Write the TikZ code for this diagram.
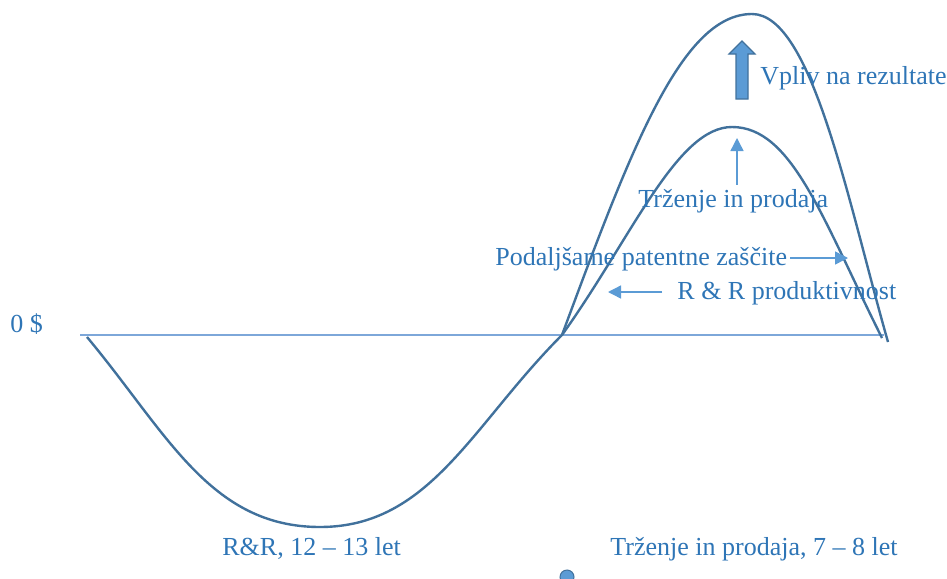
\documentclass[tikz,border=0pt]{standalone}
\usepackage{fontspec}
\setmainfont{Liberation Serif}
\usetikzlibrary{arrows.meta, positioning}
\definecolor{curveblue}{HTML}{41719C}
\definecolor{textblue}{HTML}{2E75B6}
\definecolor{lineblue}{HTML}{5B9BD5}
\definecolor{axisblue}{HTML}{7DA7D9}

\begin{document}
\begin{tikzpicture}[x=0.5pt, y=-0.5pt, >={Triangle[length=6.5pt, width=6.5pt]},
  curve/.style={draw=curveblue, line width=1.2pt},
  lbl/.style={text=textblue, font=\fontsize{13}{15}\selectfont, inner sep=0pt, anchor=base west},
  pointer/.style={draw=lineblue, fill=lineblue, line width=0.7pt, ->}]
  \useasboundingbox (0,0) rectangle (947,578);
  % zero line
  \node[lbl] (zero) at (10,332) {0 \$};
  \coordinate (a0) at (80,335);
  \coordinate (a1) at (884,335);
  \draw[axisblue, line width=0.8pt] (a0) -- (a1);
  % R&R dip, then the lower hump
  \draw[curve] (87,337) .. controls (167,433) and (210,527) .. (320,527)
     .. controls (430,527) and (472,425) .. (562,335)
     .. controls (632,237) and (677,127) .. (732,127)
     .. controls (792,127) and (822,218) .. (882,338);
  % the higher hump
  \draw[curve] (562,335) .. controls (632,146) and (682,14) .. (752,14)
     .. controls (812,14) and (848,202) .. (888,342);
  % block arrow
  \draw[fill=lineblue, draw=curveblue, line width=0.6pt] (736,99) -- (736,54) -- (729,54)
     -- (742,41) -- (755,54) -- (748,54) -- (748,99) -- cycle;
  \node[lbl] (vpliv) at (760,84) {Vpliv na rezultate};
  % labels with pointers
  \node[lbl] (trz) at (638,207) {Trženje in prodaja};
  \coordinate (trztip) at (737,138);
  \draw[pointer, shorten <=2pt] (trz.north -| trztip) -- (trztip);
  \node[lbl] (pat) at (495,265) {Podaljšame patentne zaščite};
  \coordinate (pattip) at (848,258);
  \draw[pointer, shorten <=1.5pt] (pat.east |- pattip) -- (pattip);
  \node[lbl] (prod) at (677,299) {R \& R produktivnost};
  \coordinate (prodtip) at (608,292);
  \draw[pointer, shorten <=7.5pt] (prod.west |- prodtip) -- (prodtip);
  % phase labels
  \node[lbl] (rr) at (222,555) {R\&R, 12 – 13 let};
  \node[lbl] (trzlet) at (610,555) {Trženje in prodaja, 7 – 8 let};
  \node[circle, fill=lineblue, draw=curveblue, line width=0.5pt, minimum size=7pt, inner sep=0pt] (dot) at (567,577) {};
\end{tikzpicture}
\end{document}
